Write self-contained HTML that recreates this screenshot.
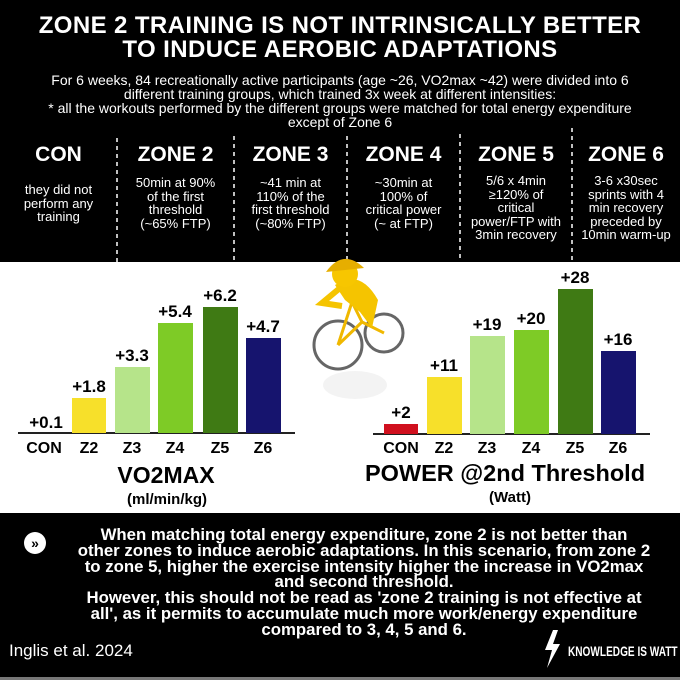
<!DOCTYPE html>
<html><head><meta charset="utf-8"><style>
*{margin:0;padding:0;box-sizing:border-box}
body{width:680px;height:680px;background:#fff;font-family:"Liberation Sans",sans-serif;position:relative;overflow:hidden}
.blk{position:absolute;left:0;width:680px;background:#000;color:#fff}
.c{position:absolute;text-align:center;white-space:nowrap}
.h{top:143px;font-size:21px;font-weight:bold}
.d{font-size:13px;line-height:13.5px}
</style></head><body>
<div class="blk" style="top:0;height:262px"></div>
<div class="blk" style="top:513px;height:164px"></div>
<div style="position:absolute;top:677px;left:0;width:680px;height:3px;background:#777"></div>

<div class="c" style="left:0;width:680px;top:14px;font-size:24px;font-weight:bold;color:#fff;line-height:24px;letter-spacing:0.4px">ZONE 2 TRAINING IS NOT INTRINSICALLY BETTER<br>TO INDUCE AEROBIC ADAPTATIONS</div>
<div class="c" style="left:0;width:680px;top:73px;font-size:14px;color:#fff;line-height:14px">For 6 weeks, 84 recreationally active participants (age ~26, VO2max ~42) were divided into 6<br>different training groups, which trained 3x week at different intensities:<br>* all the workouts performed by the different groups were matched for total energy expenditure<br>except of Zone 6</div>

<svg style="position:absolute;left:0;top:0" width="680" height="262">
<g stroke="#fff" stroke-width="1.5" stroke-dasharray="4,4">
<line x1="117" y1="138" x2="117" y2="262"/><line x1="234" y1="136" x2="234" y2="262"/>
<line x1="347" y1="136" x2="347" y2="262"/><line x1="460" y1="134" x2="460" y2="262"/>
<line x1="572" y1="128" x2="572" y2="262"/>
</g></svg>

<div style="color:#fff">
<div class="c h" style="left:0;width:117px">CON</div>
<div class="c h" style="left:117px;width:117px">ZONE 2</div>
<div class="c h" style="left:234px;width:113px">ZONE 3</div>
<div class="c h" style="left:347px;width:113px">ZONE 4</div>
<div class="c h" style="left:460px;width:112px">ZONE 5</div>
<div class="c h" style="left:572px;width:108px">ZONE 6</div>
<div class="c d" style="left:0;width:117px;top:183px">they did not<br>perform any<br>training</div>
<div class="c d" style="left:117px;width:117px;top:176px">50min at 90%<br>of the first<br>threshold<br>(~65% FTP)</div>
<div class="c d" style="left:234px;width:113px;top:176px">~41 min at<br>110% of the<br>first threshold<br>(~80% FTP)</div>
<div class="c d" style="left:347px;width:113px;top:176px">~30min at<br>100% of<br>critical power<br>(~ at FTP)</div>
<div class="c d" style="left:460px;width:112px;top:174px">5/6 x 4min<br>≥120% of<br>critical<br>power/FTP with<br>3min recovery</div>
<div class="c d" style="left:572px;width:108px;top:174px">3-6 x30sec<br>sprints with 4<br>min recovery<br>preceded by<br>10min warm-up</div>
</div>

<svg style="position:absolute;left:0;top:0" width="680" height="680" font-family="Liberation Sans, sans-serif">
<ellipse cx="355" cy="385" rx="32" ry="14" fill="#eee" opacity="0.7"/>
<circle cx="338" cy="345" r="24" fill="none" stroke="#666" stroke-width="3"/>
<circle cx="384" cy="333" r="19" fill="none" stroke="#666" stroke-width="3"/>
<path d="M338 345 L362 322 L384 333 M362 322 L352 302 M338 345 L352 302" stroke="#f0b800" stroke-width="3" fill="none"/>
<path d="M335 285 Q360 268 378 300 L372 328 L360 312 L345 300 Z" fill="#f5c400"/>
<circle cx="345" cy="274" r="13" fill="#f7c600"/>
<path d="M326 272 Q343 248 364 268 Z" fill="#e6ae00"/>
<path d="M340 288 L322 303 L342 306" stroke="#f5c400" stroke-width="6" fill="none"/>

<line x1="18" y1="433" x2="295" y2="433" stroke="#222" stroke-width="2"/>
<rect x="72" y="398" width="34" height="35" fill="#f7e02a"/>
<rect x="115" y="367" width="35" height="66" fill="#b6e48a"/>
<rect x="158" y="323" width="35" height="110" fill="#7ecb26"/>
<rect x="203" y="307" width="35" height="126" fill="#3f7a14"/>
<rect x="246" y="338" width="35" height="95" fill="#16146e"/>
<g font-size="17" font-weight="bold" text-anchor="middle" fill="#000">
<text x="46" y="428">+0.1</text><text x="89" y="392">+1.8</text><text x="132" y="361">+3.3</text>
<text x="175" y="317">+5.4</text><text x="220" y="301">+6.2</text><text x="263" y="332">+4.7</text>
<text x="44" y="453" font-size="16">CON</text><text x="89" y="453" font-size="16">Z2</text><text x="132" y="453" font-size="16">Z3</text>
<text x="175" y="453" font-size="16">Z4</text><text x="220" y="453" font-size="16">Z5</text><text x="263" y="453" font-size="16">Z6</text>
<text x="166" y="483" font-size="23">VO2MAX</text><text x="167" y="504" font-size="15">(ml/min/kg)</text>
</g>
<line x1="373" y1="434" x2="650" y2="434" stroke="#222" stroke-width="2"/>
<rect x="384" y="424" width="34" height="10" fill="#d0101e"/>
<rect x="427" y="377" width="35" height="57" fill="#f7e02a"/>
<rect x="470" y="336" width="35" height="98" fill="#b6e48a"/>
<rect x="514" y="330" width="35" height="104" fill="#7ecb26"/>
<rect x="558" y="289" width="35" height="145" fill="#3f7a14"/>
<rect x="601" y="351" width="35" height="83" fill="#16146e"/>
<g font-size="17" font-weight="bold" text-anchor="middle" fill="#000">
<text x="401" y="418">+2</text><text x="444" y="371">+11</text><text x="487" y="330">+19</text>
<text x="531" y="324">+20</text><text x="575" y="283">+28</text><text x="618" y="345">+16</text>
<text x="401" y="453" font-size="16">CON</text><text x="444" y="453" font-size="16">Z2</text><text x="487" y="453" font-size="16">Z3</text>
<text x="531" y="453" font-size="16">Z4</text><text x="575" y="453" font-size="16">Z5</text><text x="618" y="453" font-size="16">Z6</text>
<text x="505" y="481" font-size="23.5">POWER @2nd Threshold</text><text x="510" y="502" font-size="15">(Watt)</text>
</g>
<circle cx="35" cy="543" r="11" fill="#fff"/>
<text x="35" y="548" font-size="14" font-weight="bold" text-anchor="middle" fill="#000">»</text>
<path d="M553 630 L545 650 L552 650 L547 668 L560 644 L553 644 L558 630 Z" fill="#fff"/>
</svg>

<div class="c" style="left:64px;width:600px;top:527px;font-size:16.8px;font-weight:bold;color:#fff;line-height:15.8px">When matching total energy expenditure, zone 2 is not better than<br>other zones to induce aerobic adaptations. In this scenario, from zone 2<br>to zone 5, higher the exercise intensity higher the increase in VO2max<br>and second threshold.<br>However, this should not be read as 'zone 2 training is not effective at<br>all', as it permits to accumulate much more work/energy expenditure<br>compared to 3, 4, 5 and 6.</div>
<div style="position:absolute;left:9px;top:641px;font-size:17px;color:#fff;white-space:nowrap">Inglis et al. 2024</div>
<div style="position:absolute;left:568px;top:643px;font-size:14px;font-weight:bold;color:#fff;transform:scaleX(0.72);transform-origin:left;white-space:nowrap">KNOWLEDGE IS WATT</div>
</body></html>
